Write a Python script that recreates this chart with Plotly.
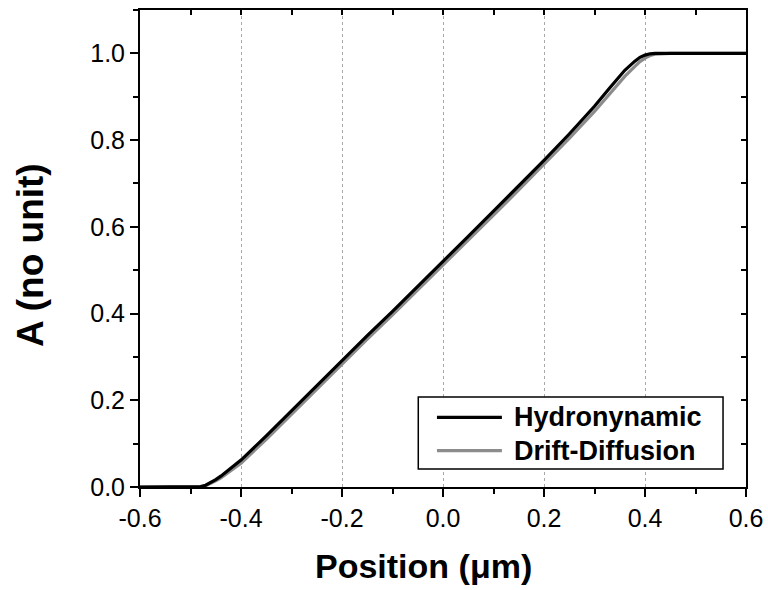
import plotly.graph_objects as go

# ---- data ----
position = [-0.60, -0.49, -0.48, -0.47, -0.46, -0.45, -0.44, -0.43, -0.42, -0.41,
            -0.40, -0.35, -0.30, -0.25, -0.20, -0.15, -0.10, -0.05, 0.00, 0.05,
            0.10, 0.15, 0.20, 0.25, 0.30, 0.33, 0.36, 0.38, 0.39, 0.40,
            0.41, 0.42, 0.45, 0.50, 0.60]
hydrodynamic = [0.000, 0.000, 0.001, 0.004, 0.010, 0.017, 0.025, 0.034, 0.043, 0.052,
                0.062, 0.118, 0.176, 0.234, 0.293, 0.349, 0.405, 0.462, 0.519, 0.578,
                0.636, 0.694, 0.753, 0.814, 0.878, 0.920, 0.961, 0.982, 0.991, 0.996,
                0.999, 1.000, 1.000, 1.000, 1.000]
drift_diffusion = [0.000, 0.000, 0.0005, 0.003, 0.008, 0.014, 0.021, 0.029, 0.037, 0.046,
                   0.055, 0.110, 0.168, 0.226, 0.285, 0.341, 0.397, 0.454, 0.511, 0.569,
                   0.627, 0.685, 0.744, 0.804, 0.866, 0.906, 0.947, 0.970, 0.981, 0.989,
                   0.995, 0.998, 1.000, 1.000, 1.000]

series_names = ["Hydronynamic", "Drift-Diffusion"]
x_tick_vals = [-0.6, -0.4, -0.2, 0.0, 0.2, 0.4, 0.6]
x_tick_text = ["-0.6", "-0.4", "-0.2", "0.0", "0.2", "0.4", "0.6"]
y_tick_vals = [0.0, 0.2, 0.4, 0.6, 0.8, 1.0]
y_tick_text = ["0.0", "0.2", "0.4", "0.6", "0.8", "1.0"]
x_title = "Position (μm)"
y_title = "A (no unit)"

FONT = "Arial, Liberation Sans, sans-serif"
BLACK = "#000000"
GRAY = "#8c8c8c"

fig = go.Figure()
fig.add_trace(go.Scatter(x=position, y=drift_diffusion, mode="lines",
                         name=series_names[1], line=dict(color=GRAY, width=3.2),
                         showlegend=False))
fig.add_trace(go.Scatter(x=position, y=hydrodynamic, mode="lines",
                         name=series_names[0], line=dict(color=BLACK, width=3.2),
                         showlegend=False))
# invisible trace to carry the mirrored top/right axes
fig.add_trace(go.Scatter(x=position, y=hydrodynamic, mode="lines", xaxis="x2", yaxis="y2",
                         line=dict(color="rgba(0,0,0,0)", width=0), hoverinfo="skip",
                         showlegend=False))

common = dict(showline=True, linecolor=BLACK, linewidth=2, zeroline=False,
              tickcolor=BLACK, tickwidth=1.5, mirror=False, automargin=False)

fig.update_layout(
    width=768, height=590,
    margin=dict(l=140, r=22, t=10, b=103, autoexpand=False),
    paper_bgcolor="white", plot_bgcolor="white",
    font=dict(family=FONT, color=BLACK),
    showlegend=False,
    xaxis=dict(range=[-0.6, 0.6], tickvals=x_tick_vals, ticktext=x_tick_text,
               ticks="outside", ticklen=8,
               tickfont=dict(size=25, family=FONT, color=BLACK),
               showgrid=True, gridcolor="#a8a8a8", griddash="dot", gridwidth=1,
               minor=dict(dtick=0.1, tick0=0, ticks="outside", ticklen=5,
                          tickcolor=BLACK, tickwidth=1.5, showgrid=False),
               **common),
    yaxis=dict(range=[0, 1.1], tickvals=y_tick_vals, ticktext=y_tick_text,
               ticks="outside", ticklen=8,
               tickfont=dict(size=25, family=FONT, color=BLACK),
               showgrid=False,
               minor=dict(dtick=0.1, tick0=0, ticks="outside", ticklen=5,
                          tickcolor=BLACK, tickwidth=1.5, showgrid=False),
               **common),
    xaxis2=dict(overlaying="x", side="top", matches="x", anchor="y",
                range=[-0.6, 0.6], tickvals=x_tick_vals, showticklabels=False,
                ticks="inside", ticklen=5, showgrid=False,
                minor=dict(dtick=0.1, tick0=0, ticks="inside", ticklen=5,
                           tickcolor=BLACK, tickwidth=1.5, showgrid=False),
                **common),
    yaxis2=dict(overlaying="y", side="right", matches="y", anchor="x",
                range=[0, 1.1], tickvals=y_tick_vals, showticklabels=False,
                ticks="inside", ticklen=5, showgrid=False,
                minor=dict(dtick=0.1, tick0=0, ticks="inside", ticklen=5,
                           tickcolor=BLACK, tickwidth=1.5, showgrid=False),
                **common),
)

# axis titles
fig.add_annotation(text=f"<b>{x_title}</b>", xref="paper", yref="paper",
                   x=0.4674, y=-0.166, xanchor="center", yanchor="middle",
                   showarrow=False, font=dict(size=34, family=FONT, color=BLACK))
fig.add_annotation(text=f"<b>{y_title}</b>", xref="paper", yref="paper",
                   x=-0.182, y=0.486, xanchor="center", yanchor="middle", textangle=-90,
                   showarrow=False, font=dict(size=37, family=FONT, color=BLACK))

# legend box (drawn to match the reference layout)
fig.add_shape(type="rect", xref="paper", yref="paper", x0=0.4592, x1=0.9621,
              y0=0.0377, y1=0.1887, line=dict(color=BLACK, width=1.5),
              fillcolor="white", layer="above")
legend_rows = [(0.1461, BLACK, series_names[0]), (0.0761, GRAY, series_names[1])]
for ly, col, label in legend_rows:
    fig.add_shape(type="line", xref="paper", yref="paper", x0=0.490, x1=0.5972,
                  y0=ly, y1=ly, line=dict(color=col, width=3.2), layer="above")
    fig.add_annotation(text=f"<b>{label}</b>", xref="paper", yref="paper",
                       x=0.6137, y=ly, xanchor="left", yanchor="middle",
                       showarrow=False, font=dict(size=27, family=FONT, color=BLACK))

fig.write_html("out.html",
               config={"displayModeBar": False},
               post_script="document.body.style.margin='0px';"
                           "document.body.style.padding='0px';"
                           "document.body.style.overflow='hidden';")
